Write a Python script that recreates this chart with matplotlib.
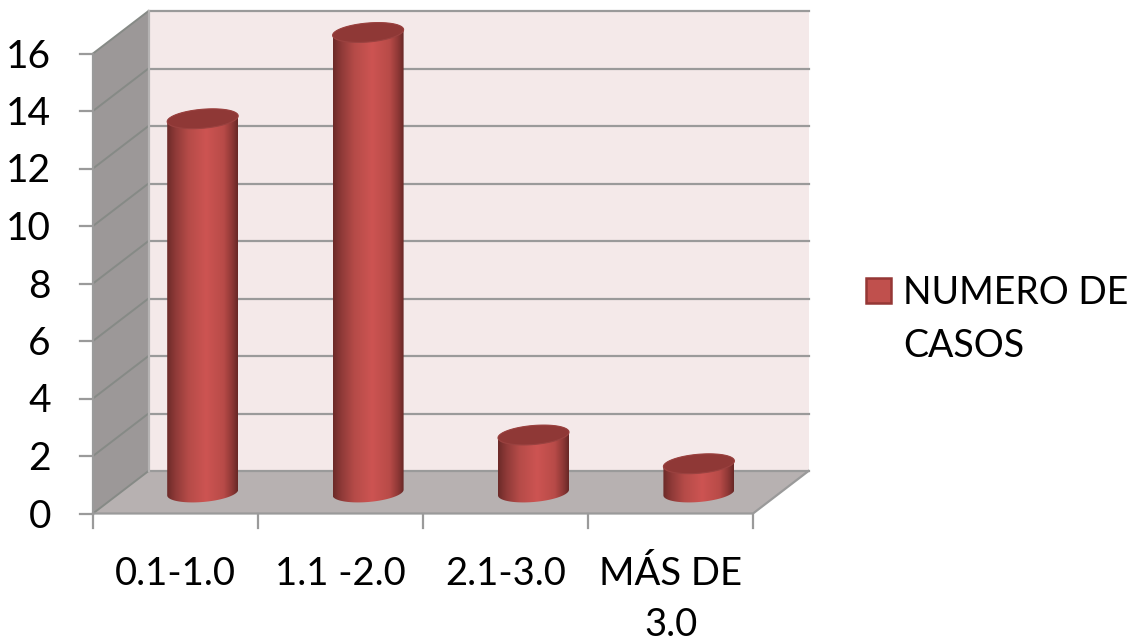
import numpy as np
import matplotlib
matplotlib.use("Agg")
import matplotlib.pyplot as plt
from matplotlib.colors import LinearSegmentedColormap
from matplotlib.patches import Polygon, Rectangle

plt.rcParams['font.family'] = ['Lato', 'DejaVu Sans']

categories = ['0.1-1.0', '1.1 -2.0', '2.1-3.0', 'MÁS DE\n3.0']
casos = [13, 16, 2, 1]
y_ticks = [0, 2, 4, 6, 8, 10, 12, 14, 16]
serie = 'NUMERO DE\nCASOS'

# box geometry in pixels
X0 = 93
X1 = 753
DX = 55.5
DY = 42.5
Y0 = 513.5
UNIT = 28.75
BASE = 492.5
BAR_A = 35.5
BAR_B = 9.5
BAR_TILT = -0.08

GRID = '#9a9a9a'
SIDE_GRID = '#868a86'
WALL = '#f4e9e9'
FLOOR = '#b7b1b1'
SIDE = '#9c9898'
TOP = '#8f3836'

fig = plt.figure(figsize=(11.34, 6.43), dpi=100)
ax = fig.add_axes([0, 0, 1, 1])
ax.set_xlim(0, 1134)
ax.set_ylim(643, 0)
ax.axis('off')


def front_y(v):
    return Y0 - v * UNIT


def ellipse(cx, cy, t):
    x = cx + BAR_A * np.cos(t)
    y = cy + BAR_B * np.sin(t) + BAR_TILT * BAR_A * np.cos(t)
    return np.column_stack([x, y])


# walls and floor
top16 = front_y(16)
ax.add_patch(Polygon([(X0 + DX, Y0 - DY), (X1 + DX, Y0 - DY), (X1 + DX, top16 - DY), (X0 + DX, top16 - DY)],
                     fc=WALL, ec='none', zorder=1))
ax.add_patch(Polygon([(X0, Y0), (X0 + DX, Y0 - DY), (X1 + DX, Y0 - DY), (X1, Y0)], fc=FLOOR, ec='none', zorder=1))
ax.add_patch(Polygon([(X0, Y0), (X0 + DX, Y0 - DY), (X0 + DX, top16 - DY), (X0, top16)], fc=SIDE, ec='none', zorder=1))

# gridlines run along the side wall and the back wall
for v in y_ticks:
    y = front_y(v)
    ax.plot([X0, X0 + DX], [y, y - DY], color=SIDE_GRID, lw=1.4, zorder=2)
    ax.plot([X0 + DX, X1 + DX], [y - DY, y - DY], color=GRID, lw=1.6, zorder=2)
    ax.plot([X0 - 13, X0], [y, y], color=GRID, lw=1.6, zorder=2)
    ax.text(51, y + 3, str(v), ha='right', va='center', fontsize=28, color='black')

ax.plot([X0 + DX, X0 + DX], [top16 - DY, Y0 - DY], color='#b5b3b3', lw=1.6, zorder=2)
ax.plot([X0, X0], [top16, Y0], color=GRID, lw=1.6, zorder=2)
ax.plot([X0, X1, X1 + DX], [Y0, Y0, Y0 - DY], color=GRID, lw=1.6, zorder=2)

# category ticks and labels
step = (X1 - X0) / len(categories)
for i in range(len(categories) + 1):
    ax.plot([X0 + i * step] * 2, [Y0, Y0 + 14], color=GRID, lw=1.6, zorder=2)
for i, c in enumerate(categories):
    ax.text(X0 + (i + 0.5) * step, 556, c, ha='center', va='top', fontsize=27.5, color='black',
            linespacing=1.5)

# cylinders: gradient body clipped to the outline, then the darker lid
cmap = LinearSegmentedColormap.from_list('cil', [(0, '#6c2a28'), (0.12, '#8f3a38'), (0.3, '#b54b48'),
                                                 (0.55, '#cd5452'), (0.8, '#b84b48'), (0.93, '#8a3634'),
                                                 (1, '#672725')])
grad = np.linspace(0, 1, 256).reshape(1, -1)
bar_step = 165.4
for i, v in enumerate(casos):
    cx = X0 + (i + 0.5) * bar_step + 27
    top = BASE - v * UNIT
    t = np.linspace(0, 2 * np.pi, 200)
    low = ellipse(cx, BASE, np.linspace(0, np.pi, 100))
    up = ellipse(cx, top, np.linspace(np.pi, 2 * np.pi, 100))
    body = Polygon(np.vstack([low, up]), fc='none', ec='none', transform=ax.transData)
    ax.add_patch(body)
    im = ax.imshow(grad, cmap=cmap, extent=[cx - BAR_A, cx + BAR_A, BASE + 15, top - 15], aspect='auto', zorder=3,
                   interpolation='bilinear')
    im.set_clip_path(body)
    ax.add_patch(Polygon(ellipse(cx, top, t), fc=TOP, ec='#9a4240', lw=0.8, zorder=4))

ax.set_xlim(0, 1134)
ax.set_ylim(643, 0)

# legend
ax.add_patch(Rectangle((866, 278), 25, 25, fc='#c0504d', ec='#953735', lw=1.8, zorder=3))
ax.text(903, 275, serie, ha='left', va='top', fontsize=27, color='black', linespacing=1.57)

fig.savefig('out.png', dpi=100)
